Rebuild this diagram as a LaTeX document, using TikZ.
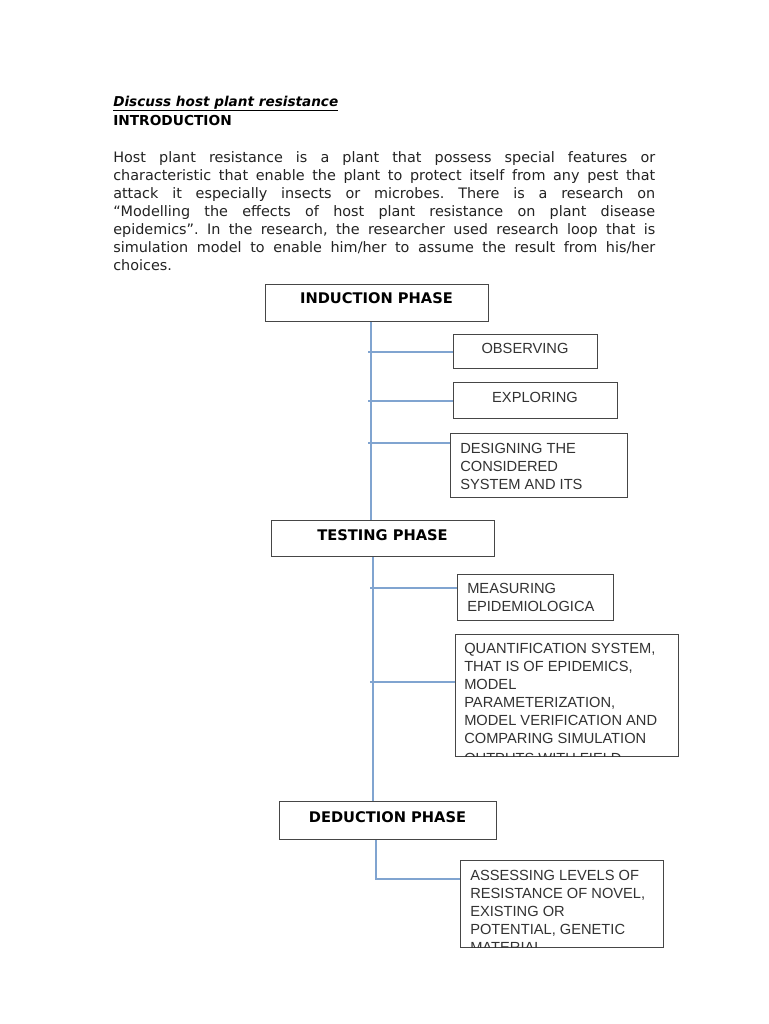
\documentclass[tikz,border=0pt]{standalone}
\usepackage{fontspec}
\setmainfont{DejaVu Sans}
\newfontfamily\boxfont{Liberation Sans}
\frenchspacing
\begin{document}
\begin{tikzpicture}[x=0.75pt,y=-0.75pt,
  box/.style={draw=boxgray,line width=1pt,rectangle,inner sep=0pt,anchor=north west},
  conn/.style={draw=linkblue,line width=1.3pt},
  btxt/.style={anchor=base west,inner sep=0pt,font=\boxfont\fontsize{11}{13}\selectfont,text=textgray},
  head/.style={anchor=base,inner sep=0pt,font=\bfseries\fontsize{11}{13}\selectfont,text=black},
  body/.style={anchor=base west,inner sep=0pt,font=\fontsize{10.8}{13.5}\selectfont,text=bodygray}]
\definecolor{boxgray}{RGB}{70,70,70}
\definecolor{linkblue}{RGB}{128,164,208}
\definecolor{textgray}{RGB}{50,50,50}
\definecolor{bodygray}{RGB}{35,35,35}
\useasboundingbox[fill=white] (0,0) rectangle (768,1024);

% heading text
\node[anchor=base west,inner sep=0pt,font=\bfseries\itshape\fontsize{10.2}{13}\selectfont] (title) at (113,106) {\underline{Discuss host plant resistance}};
\node[anchor=base west,inner sep=0pt,font=\bfseries\fontsize{10.3}{13}\selectfont] (intro) at (113,125) {INTRODUCTION};

\node[body] (p1) at (113,162) {\makebox[406.5pt][s]{Host plant resistance is a plant that possess special features or}};
\node[body] (p2) at (113,180) {\makebox[406.5pt][s]{characteristic that enable the plant to protect itself from any pest that}};
\node[body] (p3) at (113,198) {\makebox[406.5pt][s]{attack it especially insects or microbes. There is a research on}};
\node[body] (p4) at (113,216) {\makebox[406.5pt][s]{“Modelling the effects of host plant resistance on plant disease}};
\node[body] (p5) at (113,234) {\makebox[406.5pt][s]{epidemics”. In the research, the researcher used research loop that is}};
\node[body] (p6) at (113,252) {\makebox[406.5pt][s]{simulation model to enable him/her to assume the result from his/her}};
\node[body] (p7) at (113,270) {choices.};

% boxes
\node[box,minimum width=167.25pt,minimum height=27.75pt] (ind) at (265,284) {};
\node[box,minimum width=108pt,minimum height=25.5pt] (obs) at (453,334) {};
\node[box,minimum width=123pt,minimum height=27pt] (exp) at (453,382) {};
\node[box,minimum width=132.75pt,minimum height=48pt] (des) at (450,433) {};
\node[box,minimum width=167.25pt,minimum height=27pt] (test) at (271,520) {};
\node[box,minimum width=117pt,minimum height=34.5pt] (mea) at (457,574) {};
\node[box,minimum width=167.25pt,minimum height=91.5pt] (qua) at (455,634) {};
\node[box,minimum width=162.75pt,minimum height=28.5pt] (ded) at (279,801) {};
\node[box,minimum width=152.25pt,minimum height=65.25pt] (ass) at (460,860) {};

% box texts
\node[head] (tind) at (376.5,303) {INDUCTION PHASE};
\node[head] (ttest) at (382.5,540) {TESTING PHASE};
\node[head] (tded) at (387.5,822) {DEDUCTION PHASE};

\node[btxt,anchor=base] (tobs) at (525,353) {OBSERVING};
\node[btxt,anchor=base] (texp) at (535,402) {EXPLORING};
\node[btxt] (tdes1) at (460,453) {DESIGNING THE};
\node[btxt] (tdes2) at (460,471) {CONSIDERED};
\node[btxt] (tdes3) at (460,489) {SYSTEM AND ITS};
\node[btxt] (tmea1) at (467,593) {MEASURING};
\node[btxt] (tmea2) at (467,611) {EPIDEMIOLOGICA};

\begin{scope}
\clip ([shift={(0.6pt,-0.6pt)}]qua.north west) rectangle ([shift={(-0.6pt,0.6pt)}]qua.south east);
\node[btxt] (tq1) at (464,653) {QUANTIFICATION SYSTEM,};
\node[btxt] (tq2) at (464,671) {THAT IS OF EPIDEMICS,};
\node[btxt] (tq3) at (464,689) {MODEL};
\node[btxt] (tq4) at (464,707) {PARAMETERIZATION,};
\node[btxt] (tq5) at (464,725) {MODEL VERIFICATION AND};
\node[btxt] (tq6) at (464,743) {COMPARING SIMULATION};
\node[btxt] (tq7) at (464,763) {OUTPUTS WITH FIELD};
\end{scope}

\begin{scope}
\clip ([shift={(0.6pt,-0.6pt)}]ass.north west) rectangle ([shift={(-0.6pt,0.6pt)}]ass.south east);
\node[btxt] (ta1) at (470,880) {ASSESSING LEVELS OF};
\node[btxt] (ta2) at (470,898) {RESISTANCE OF NOVEL,};
\node[btxt] (ta3) at (470,916) {EXISTING OR};
\node[btxt] (ta4) at (470,934) {POTENTIAL, GENETIC};
\node[btxt] (ta5) at (470,952) {MATERIAL};
\end{scope}

% trunk coordinates
\coordinate (k1) at (371,0);
\coordinate (k2) at (373,0);
\coordinate (k3) at (376,0);
\coordinate (s1) at (368,0);
\coordinate (s2) at (370,0);
\coordinate (bdes) at ([yshift=-7.5pt]des.north west);
\coordinate (bmea) at ([yshift=-10.5pt]mea.north west);
\coordinate (bqua) at ([yshift=-36pt]qua.north west);
\coordinate (bass) at ([yshift=-14.25pt]ass.north west);

% connectors
\draw[conn] (k1 |- ind.south) -- (k1 |- test.north);
\draw[conn] (s1 |- obs.west) -- (obs.west);
\draw[conn] (s1 |- exp.west) -- (exp.west);
\draw[conn] (s1 |- bdes) -- (bdes);

\draw[conn] (k2 |- test.south) -- (k2 |- ded.north);
\draw[conn] (s2 |- bmea) -- (bmea);
\draw[conn] (s2 |- bqua) -- (bqua);

\draw[conn] (k3 |- ded.south) |- (bass);
\end{tikzpicture}
\end{document}
